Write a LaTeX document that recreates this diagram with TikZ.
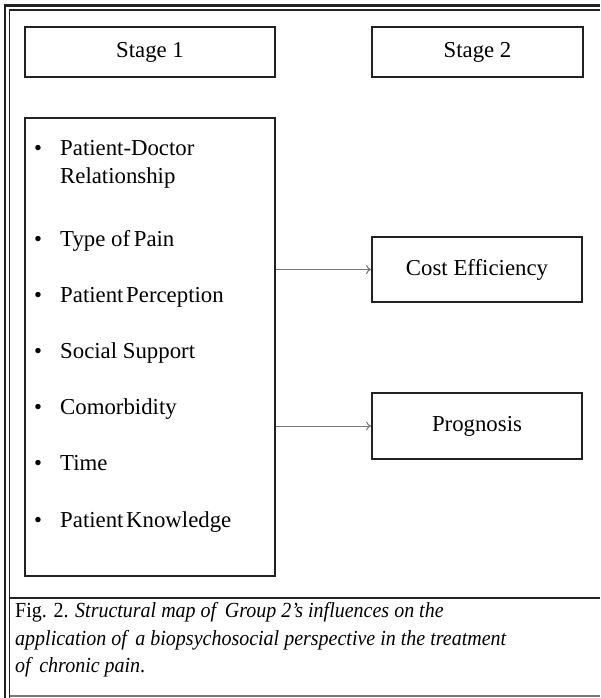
\documentclass[tikz,border=0pt]{standalone}
\usepackage{fontspec}
\setmainfont{Liberation Serif}
\newfontfamily\capfam{Liberation Serif}[FakeStretch=0.93]
\usetikzlibrary{arrows.meta}
\definecolor{boxline}{HTML}{222222}
\definecolor{arrline}{HTML}{777777}
\begin{document}
\begin{tikzpicture}[x=1pt,y=-1pt,
  stagebox/.style={draw=boxline,line width=1.8pt,minimum width=250pt,minimum height=50pt,inner sep=0pt,font=\fontsize{22.8}{27}\selectfont},
  resbox/.style={draw=boxline,line width=1.8pt,minimum width=210pt,inner sep=0pt,font=\fontsize{22.8}{27}\selectfont},
  itemtext/.style={anchor=base west,inner sep=0pt,font=\fontsize{22.8}{28}\selectfont},
  bullet/.style={anchor=base,inner sep=0pt,font=\fontsize{22.5}{28}\selectfont},
  captext/.style={anchor=base west,inner sep=0pt,font=\fontsize{21.5}{27}\capfam},
  flow/.style={draw=arrline,line width=1pt,-{To[length=5pt,width=9pt]}}]
\useasboundingbox (0,0) rectangle (600,698);
% frame
\draw[boxline,line width=2.5pt] (5,698) -- (5,5.5) -- (600,5.5);
\draw[boxline,line width=1.1pt] (9.5,698) -- (9.5,10) -- (600,10);
\draw[boxline,line width=2pt] (9.5,598) -- (600,598);
\draw[arrline,line width=1.6pt] (9.5,696) -- (600,696);
% stage boxes
\node[stagebox] (s1) at (150,52) {Stage 1};
\node[stagebox,minimum width=211pt] (s2) at (477.5,52) {Stage 2};
% list box
\node[draw=boxline,line width=1.8pt,minimum width=250pt,minimum height=458pt,inner sep=0pt] (list) at (150,347) {};
% items
\foreach \yy/\txt in {155/Patient-Doctor,246/Type of\hspace{-2pt} Pain,302/Patient\hspace{-3pt} Perception,358/Social Support,414/Comorbidity,470/Time,527/Patient\hspace{-3pt} Knowledge}{
  \node[bullet] at (38,\yy) {•};
  \node[itemtext] at (60,\yy) {\txt};
}
\node[itemtext] (rel) at (60,183) {Relationship};
% result boxes
\node[resbox,minimum height=65pt] (cost) at (477,269.5) {Cost Efficiency};
\node[resbox,minimum height=66pt] (prog) at (477,426) {Prognosis};
% arrows
\draw[flow] (list.east |- cost.west) -- (cost.west);
\draw[flow] (list.east |- prog.west) -- (prog.west);
% caption
\node[captext] (c1) at (15,617) {Fig. 2. \textit{Structural map of\, Group 2’s influences on the}};
\node[captext] (c2) at (15,645) {\textit{application of\, a biopsychosocial perspective in the treatment}};
\node[captext] (c3) at (15,672) {\textit{of\, chronic pain}.};
\end{tikzpicture}
\end{document}
